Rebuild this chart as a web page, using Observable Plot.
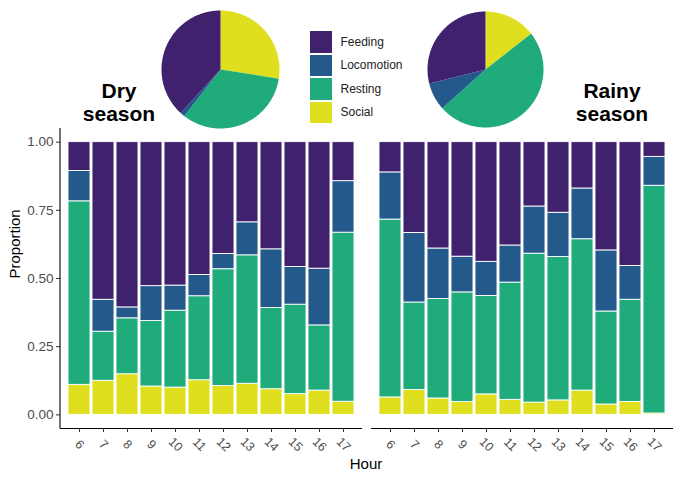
<!DOCTYPE html>
<html>
<head>
<meta charset="utf-8">
<script src="https://cdn.jsdelivr.net/npm/d3@7"></script>
<script src="https://cdn.jsdelivr.net/npm/@observablehq/plot@0.6"></script>
<style>
  html, body { margin: 0; padding: 0; background: #fff; }
  #wrap { position: relative; width: 680px; height: 477px; overflow: hidden; font-family: "Liberation Sans", Arial, sans-serif; }
  #wrap svg { position: absolute; overflow: visible; }
  .season { position: absolute; width: 100px; text-align: center; font-weight: bold; font-size: 21px; line-height: 23px; color: #000; }
  .legend { position: absolute; left: 310px; top: 30px; }
  .legend .row { display: flex; align-items: center; height: 23.5px; }
  .legend .sw { width: 21.5px; height: 21.5px; margin-right: 9px; }
  .legend span { font-size: 12px; color: #222; }
  .xlab { position: absolute; left: 316px; width: 100px; top: 456px; text-align: center; font-size: 15px; line-height: 15px; color: #000; }
</style>
</head>
<body>
<div id="wrap"></div>
<script>
// ---- data ----
const hours = ["6","7","8","9","10","11","12","13","14","15","16","17"];
const behaviours = ["Feeding", "Locomotion", "Resting", "Social"];
const colours = ["#40216e", "#23598b", "#20ab7b", "#dfdf20"];

// Dry season proportions per hour
const drySocial     = [0.110,0.125,0.149,0.104,0.100,0.127,0.106,0.114,0.094,0.076,0.089,0.048];
const dryResting    = [0.673,0.180,0.205,0.240,0.282,0.308,0.428,0.471,0.298,0.328,0.239,0.620];
const dryLocomotion = [0.111,0.117,0.040,0.128,0.092,0.078,0.056,0.121,0.215,0.138,0.208,0.189];
const dryFeeding    = [0.106,0.578,0.606,0.528,0.526,0.487,0.410,0.294,0.393,0.458,0.464,0.143];

// Rainy season proportions per hour
const rainySocial     = [0.064,0.091,0.060,0.047,0.075,0.055,0.045,0.053,0.089,0.038,0.047,0.005];
const rainyResting    = [0.652,0.321,0.365,0.402,0.361,0.430,0.546,0.526,0.555,0.341,0.375,0.835];
const rainyLocomotion = [0.173,0.255,0.185,0.131,0.125,0.136,0.173,0.162,0.186,0.224,0.124,0.106];
const rainyFeeding    = [0.111,0.333,0.390,0.420,0.439,0.379,0.236,0.259,0.170,0.397,0.454,0.054];

// Overall pies (clockwise from 12 o'clock: Social, Resting, Locomotion, Feeding)
const pieOrder = ["Social", "Resting", "Locomotion", "Feeding"];
const dryPie   = [0.275, 0.330, 0.013, 0.382];
const rainyPie = [0.144, 0.490, 0.077, 0.289];

const yTicks = [0, 0.25, 0.5, 0.75, 1];

// ---- build tables ----
function table(social, resting, loco, feeding) {
  const rows = [];
  hours.forEach((h, i) => {
    rows.push({hour: h, behaviour: "Social", value: social[i]});
    rows.push({hour: h, behaviour: "Resting", value: resting[i]});
    rows.push({hour: h, behaviour: "Locomotion", value: loco[i]});
    rows.push({hour: h, behaviour: "Feeding", value: feeding[i]});
  });
  return rows;
}
const dryData = table(drySocial, dryResting, dryLocomotion, dryFeeding);
const rainyData = table(rainySocial, rainyResting, rainyLocomotion, rainyFeeding);

const colorScale = {domain: behaviours, range: colours};
const font = '"Liberation Sans", Arial, sans-serif';

function barPlot(data, left, opts) {
  const marks = [
    Plot.barY(data, Plot.stackY({x: "hour", y: "value", fill: "behaviour", order: ["Social","Resting","Locomotion","Feeding"], stroke: "white", strokeWidth: 0.9})),
    Plot.ruleY([-0.05], {stroke: "#000", strokeWidth: 1.1}),
    Plot.axisX({tickSize: 4, stroke: "#333", tickFormat: () => "", label: null}),
    Plot.text(hours, {x: d => d, y: () => -0.05, dy: 16, rotate: 45, textAnchor: "middle", lineAnchor: "middle", fontSize: 12.5, fill: "#4d4d4d"})
  ];
  if (left) {
    marks.push(
      Plot.axisY({ticks: yTicks, tickFormat: () => "", tickSize: 4, stroke: "#333", label: null}),
      Plot.text(yTicks, {y: d => d, frameAnchor: "left", dx: -7, textAnchor: "end", text: d3.format(".2f"), fontSize: 13.5, fill: "#4d4d4d"}),
      (index, scales, values, dims) => {
        const l = d3.create("svg:line")
          .attr("x1", dims.marginLeft).attr("x2", dims.marginLeft)
          .attr("y1", dims.marginTop).attr("y2", dims.height - dims.marginBottom + 0.5)
          .attr("stroke", "#000").attr("stroke-width", 1.1);
        return l.node();
      },
      Plot.text(["Proportion"], {frameAnchor: "left", rotate: -90, dx: -45, fontSize: 15, fill: "#000"})
    );
  }
  return Plot.plot({
    width: opts.width, height: 477,
    marginTop: 128, marginBottom: 49, marginLeft: opts.ml, marginRight: opts.mr,
    style: {fontFamily: font, background: "transparent"},
    x: {domain: hours, paddingInner: 0.1, paddingOuter: 0.15, axis: null},
    y: {domain: [-0.05, 1.05], axis: null},
    color: colorScale,
    marks
  });
}

function piePlot(values, size) {
  const arcs = d3.pie().sort(null)(values);
  const pts = [];
  arcs.forEach((a, i) => {
    const b = pieOrder[i];
    pts.push({behaviour: b, x: 0, y: 0});
    const n = Math.max(2, Math.ceil((a.endAngle - a.startAngle) / 0.01));
    for (let k = 0; k <= n; k++) {
      const t = a.startAngle + (a.endAngle - a.startAngle) * k / n;
      pts.push({behaviour: b, x: Math.sin(t), y: Math.cos(t)});
    }
    pts.push({behaviour: b, x: 0, y: 0});
  });
  return Plot.plot({
    width: size, height: size, margin: 0,
    x: {domain: [-1, 1], axis: null},
    y: {domain: [-1, 1], axis: null},
    color: colorScale,
    style: {background: "transparent"},
    marks: [
      Plot.line(pts, {x: "x", y: "y", z: "behaviour", fill: "behaviour", stroke: "none"})
    ]
  });
}

const wrap = document.getElementById("wrap");

const leftSvg = barPlot(dryData, true, {width: 362, ml: 60, mr: 0});
leftSvg.style.left = "0px"; leftSvg.style.top = "0px";
wrap.appendChild(leftSvg);

const rightSvg = barPlot(rainyData, false, {width: 309, ml: 0, mr: 7});
rightSvg.style.left = "371px"; rightSvg.style.top = "0px";
wrap.appendChild(rightSvg);

const p1 = piePlot(dryPie, 118);
p1.style.left = "161px"; p1.style.top = "10px";
wrap.appendChild(p1);

const p2 = piePlot(rainyPie, 116);
p2.style.left = "427px"; p2.style.top = "11px";
wrap.appendChild(p2);

// season titles
[["Dry", "season", 69], ["Rainy", "season", 562]].forEach(([a, b, x]) => {
  const d = document.createElement("div");
  d.className = "season";
  d.style.left = x + "px"; d.style.top = "79px";
  d.innerHTML = a + "<br>" + b;
  wrap.appendChild(d);
});

// legend
const lg = document.createElement("div");
lg.className = "legend";
behaviours.forEach((b, i) => {
  const r = document.createElement("div");
  r.className = "row";
  r.innerHTML = `<div class="sw" style="background:${colours[i]}"></div><span>${b}</span>`;
  lg.appendChild(r);
});
wrap.appendChild(lg);

const xl = document.createElement("div");
xl.className = "xlab";
xl.textContent = "Hour";
wrap.appendChild(xl);
</script>
</body>
</html>
